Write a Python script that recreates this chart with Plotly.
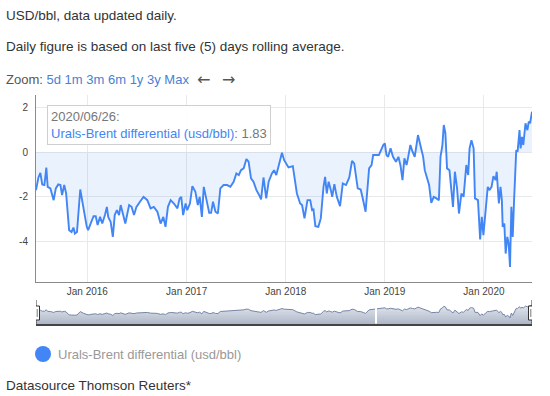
import numpy as np
import pandas as pd
import plotly.graph_objects as go

# ---- data (decimal year, USD/bbl) ----
year_frac = [
    2015.484, 2015.508, 2015.528, 2015.548, 2015.568, 2015.588, 2015.602, 2015.628, 2015.662, 2015.685,
    2015.709, 2015.729, 2015.746, 2015.769, 2015.789, 2015.819, 2015.843, 2015.863, 2015.876, 2015.896,
    2015.930, 2015.964, 2015.997, 2016.010, 2016.037, 2016.064, 2016.087, 2016.105, 2016.131, 2016.151,
    2016.178, 2016.198, 2016.211, 2016.238, 2016.258, 2016.278, 2016.299, 2016.322, 2016.339, 2016.359,
    2016.386, 2016.422, 2016.449, 2016.472, 2016.497, 2016.533, 2016.567, 2016.607, 2016.640, 2016.673,
    2016.708, 2016.741, 2016.768, 2016.791, 2016.814, 2016.841, 2016.874, 2016.909, 2016.932, 2016.949,
    2016.969, 2016.992, 2017.009, 2017.035, 2017.062, 2017.092, 2017.116, 2017.136, 2017.156, 2017.176,
    2017.203, 2017.230, 2017.250, 2017.270, 2017.294, 2017.317, 2017.344, 2017.377, 2017.411, 2017.444,
    2017.477, 2017.505, 2017.528, 2017.552, 2017.578, 2017.605, 2017.628, 2017.652, 2017.678, 2017.706,
    2017.739, 2017.753, 2017.779, 2017.806, 2017.829, 2017.863, 2017.886, 2017.907, 2017.930, 2017.964,
    2017.987, 2018.030, 2018.074, 2018.115, 2018.148, 2018.168, 2018.191, 2018.221, 2018.248, 2018.268,
    2018.281, 2018.302, 2018.332, 2018.356, 2018.382, 2018.399, 2018.416, 2018.436, 2018.456, 2018.472,
    2018.492, 2018.517, 2018.550, 2018.577, 2018.610, 2018.643, 2018.670, 2018.693, 2018.728, 2018.758,
    2018.784, 2018.808, 2018.844, 2018.868, 2018.884, 2018.942, 2018.985, 2019.002, 2019.019, 2019.035,
    2019.059, 2019.085, 2019.113, 2019.140, 2019.160, 2019.180, 2019.200, 2019.220, 2019.236, 2019.260,
    2019.280, 2019.304, 2019.337, 2019.361, 2019.387, 2019.404, 2019.427, 2019.447, 2019.471, 2019.495,
    2019.522, 2019.548, 2019.562, 2019.582, 2019.595, 2019.612, 2019.628, 2019.655, 2019.672, 2019.688,
    2019.709, 2019.729, 2019.749, 2019.773, 2019.796, 2019.823, 2019.843, 2019.856, 2019.876, 2019.897,
    2019.910, 2019.940, 2019.964, 2019.980, 2019.997, 2020.017, 2020.040, 2020.057, 2020.077, 2020.097,
    2020.118, 2020.131, 2020.151, 2020.168, 2020.181, 2020.191, 2020.208, 2020.221, 2020.238, 2020.251,
    2020.265, 2020.278, 2020.292, 2020.306, 2020.316, 2020.326, 2020.342, 2020.359, 2020.372, 2020.386,
    2020.399, 2020.419, 2020.439, 2020.452, 2020.466, 2020.485,
]
differential = [
    -1.70, -1.13, -0.92, -1.44, -1.47, -0.68, -1.55, -1.62, -2.15, -1.62,
    -1.44, -1.47, -1.92, -1.47, -1.85, -3.50, -3.58, -3.38, -3.65, -3.58,
    -1.67, -2.60, -3.35, -3.50, -3.20, -2.87, -2.87, -3.27, -2.90, -3.20,
    -2.82, -2.45, -2.90, -3.13, -3.80, -2.82, -2.60, -2.82, -2.37, -2.75,
    -3.20, -2.37, -2.45, -2.82, -2.45, -2.22, -2.00, -2.15, -2.52, -2.45,
    -2.67, -3.20, -2.90, -3.35, -2.45, -2.15, -2.30, -2.52, -2.07, -2.00,
    -2.82, -2.30, -2.60, -2.30, -1.52, -1.77, -2.37, -2.00, -2.90, -1.55,
    -2.22, -2.72, -2.72, -2.22, -2.67, -2.75, -1.62, -1.47, -1.47, -1.55,
    -1.32, -0.95, -1.02, -0.80, -0.72, -0.30, -0.42, -1.17, -1.32, -1.70,
    -1.97, -2.12, -1.13, -2.07, -1.32, -0.95, -0.80, -1.02, -0.65, -0.02,
    -0.35, -0.68, -0.62, -1.85, -2.30, -2.37, -2.97, -2.15, -2.15, -2.60,
    -2.57, -3.32, -3.35, -2.97, -1.55, -1.10, -1.85, -1.32, -1.70, -2.00,
    -1.43, -2.00, -2.42, -1.40, -1.47, -1.13, -0.38, -0.50, -1.62, -1.67,
    -2.15, -2.67, -0.72, -0.57, -0.12, -0.12, 0.33, 0.40, -0.12, -0.20,
    0.18, -0.20, -0.42, -0.20, -0.62, -1.25, -0.27, -0.57, -0.27, 0.33,
    0.03, -0.20, 0.78, 0.33, -0.20, -0.80, -1.13, -1.47, -2.27, -2.00,
    -2.07, -2.15, -0.20, 0.33, 1.23, 0.86, -0.72, -0.80, -1.70, -2.45,
    -0.87, -1.62, -2.75, -1.85, -2.00, -0.57, -1.02, 0.18, 0.55, 0.18,
    -2.07, -2.15, -3.92, -2.90, -3.72, -2.45, -1.55, -1.70, -1.55, -1.07,
    -1.25, -0.87, -2.30, -1.55, -2.15, -3.35, -3.20, -4.55, -3.80, -4.10,
    -5.15, -2.45, -3.80, -2.15, -0.65, 0.10, 0.03, 1.00, 0.18, 0.70,
    0.33, 1.31, 1.00, 1.38, 1.31, 1.83,
]
series_name = "Urals-Brent differential (usd/bbl)"
zoom_links = ["5d", "1m", "3m", "6m", "1y", "3y", "Max"]
y_ticks = [2, 0, -2, -4]

yf = np.array(year_frac)
dates = pd.to_datetime("2016-01-01") + pd.to_timedelta((yf - 2016.0) * 365.25, unit="D")
dates = dates.normalize()
vals = np.array(differential)

BLUE = "#4285f4"
FONT = "Arial, Liberation Sans, sans-serif"

# page geometry
W, H = 550, 396
ML, MR, MT, MB = 36, 18, 95, 72
PW, PH = W - ML - MR, H - MT - MB


def px(x):
    return (x - ML) / PW


def py(y):
    return (H - MB - y) / PH


fig = go.Figure()

# main series
fig.add_trace(go.Scatter(
    x=dates, y=vals, mode="lines", name=series_name,
    line=dict(color=BLUE, width=1.9),
    fill="tozeroy", fillcolor="rgba(66,133,244,0.11)",
    xaxis="x", yaxis="y", showlegend=False, hoverinfo="skip",
))

# navigator (range filter) – baseline + series
nav_floor = -8.5
fig.add_trace(go.Scatter(
    x=dates, y=np.full(len(vals), nav_floor), mode="lines",
    line=dict(width=0, color="rgba(0,0,0,0)"),
    xaxis="x2", yaxis="y2", showlegend=False, hoverinfo="skip",
))
fig.add_trace(go.Scatter(
    x=dates, y=vals, mode="lines",
    line=dict(color="#7585a6", width=1),
    fill="tonexty",
    fillgradient=dict(type="vertical",
                      colorscale=[[0, "#aeb6c7"], [1, "#e2e6ee"]]),
    xaxis="x2", yaxis="y2", showlegend=False, hoverinfo="skip",
))

fig.update_layout(
    width=W, height=H,
    margin=dict(l=ML, r=MR, t=MT, b=MB, pad=0),
    paper_bgcolor="white", plot_bgcolor="white",
    font=dict(family=FONT, size=13, color="#333"),
    showlegend=False,
    xaxis=dict(
        domain=[0, 1], anchor="y",
        range=[dates[0], dates[-1]],
        tick0="2016-01-01", dtick="M12", tickformat="%b %Y",
        showgrid=True, gridcolor="#e9e9e9", gridwidth=1,
        showline=True, linecolor="#8a8a8a", linewidth=1,
        ticks="", tickfont=dict(size=10, color="#444"),
        zeroline=False, fixedrange=True,
    ),
    yaxis=dict(
        domain=[py(282), 1], anchor="x",
        range=[-5.83, 2.58],
        tickvals=y_ticks, ticktext=[str(t) for t in y_ticks],
        showgrid=True, gridcolor="#e9e9e9", gridwidth=1,
        showline=True, linecolor="#8a8a8a", linewidth=1,
        ticks="", ticklabelstandoff=5,
        tickfont=dict(size=10, color="#444"),
        zeroline=False, fixedrange=True,
    ),
    xaxis2=dict(
        domain=[0, 1], anchor="y2",
        range=[dates[0], dates[-1]],
        showgrid=False, showticklabels=False, ticks="",
        showline=True, linecolor="#444", linewidth=1.5,
        zeroline=False, fixedrange=True,
    ),
    yaxis2=dict(
        domain=[0, py(302)], anchor="x2",
        range=[nav_floor, 3.6],
        showgrid=False, showticklabels=False, ticks="",
        showline=False, zeroline=False, fixedrange=True,
    ),
)

# navigator data gap (largest gap between consecutive points)
gaps = np.diff(dates.values).astype("timedelta64[D]").astype(int)
gi = int(np.argmax(gaps))
gap_mid = dates[gi] + (dates[gi + 1] - dates[gi]) / 2
shapes = [
    dict(type="line", xref="x2", yref="y2 domain", x0=gap_mid, x1=gap_mid,
         y0=0.02, y1=1, line=dict(color="white", width=2)),
]
# navigator handles
for d in (dates[0], dates[-1]):
    shapes.append(dict(type="line", xref="x2", yref="paper", x0=d, x1=d,
                       y0=py(324), y1=py(300), line=dict(color="#333", width=1)))
    shapes.append(dict(type="rect", xref="x2", yref="paper", xsizemode="pixel",
                       xanchor=d, x0=-3.5, x1=3.5, y0=py(320), y1=py(306),
                       fillcolor="white", line=dict(color="#333", width=1)))
    for off in (-1.2, 1.2):
        shapes.append(dict(type="line", xref="x2", yref="paper", xsizemode="pixel",
                           xanchor=d, x0=off, x1=off, y0=py(317), y1=py(309),
                           line=dict(color="#555", width=0.8)))
# legend dot
shapes.append(dict(type="circle", xref="paper", yref="paper",
                   xsizemode="pixel", ysizemode="pixel",
                   xanchor=px(43), yanchor=py(354),
                   x0=-8, x1=8, y0=-8, y1=8,
                   fillcolor=BLUE, line=dict(width=0)))
fig.update_layout(shapes=shapes)

ann = []


def text(x, y, t, size=13.5, color="#333", xanchor="left", family=FONT):
    ann.append(dict(x=px(x), y=py(y), xref="paper", yref="paper", text=t,
                    showarrow=False, xanchor=xanchor, yanchor="middle",
                    font=dict(family=family, size=size, color=color)))


text(4, 15, "USD/bbl, data updated daily.")
text(4, 47, "Daily figure is based on last five (5) days rolling average.")
zoom_html = ("<span style='color:#555'>Zoom: </span>"
             + " ".join(f"<span style='color:#4a7fd4'>{z}</span>" for z in zoom_links))
text(4, 79, zoom_html, size=13)
text(195, 79, "←", size=16, color="#555", family="DejaVu Sans")
text(220, 79, "→", size=16, color="#555", family="DejaVu Sans")

# tooltip
last_date = dates[-1].strftime("%Y/%m/%d")
tip = (f"<span style='color:#777'>{last_date}:</span><br>"
       f"<span style='color:{BLUE}'>{series_name}</span>"
       f"<span style='color:#777'>: {vals[-1]:.2f}</span>")
ann.append(dict(x=px(47), y=py(105), xref="paper", yref="paper", text=tip,
                showarrow=False, xanchor="left", yanchor="top", align="left",
                bgcolor="rgba(255,255,255,0.9)", bordercolor="#cfcfcf",
                borderwidth=1, borderpad=3,
                font=dict(family=FONT, size=13, color="#777")))

# legend label
text(56, 354, series_name, size=13, color="#999")
text(4, 385, "Datasource Thomson Reuters*")

fig.update_layout(annotations=ann)
fig.write_html("out.html",
               config={"displayModeBar": False},
               post_script="document.body.style.margin='0';"
                           "document.body.style.overflow='hidden';")
